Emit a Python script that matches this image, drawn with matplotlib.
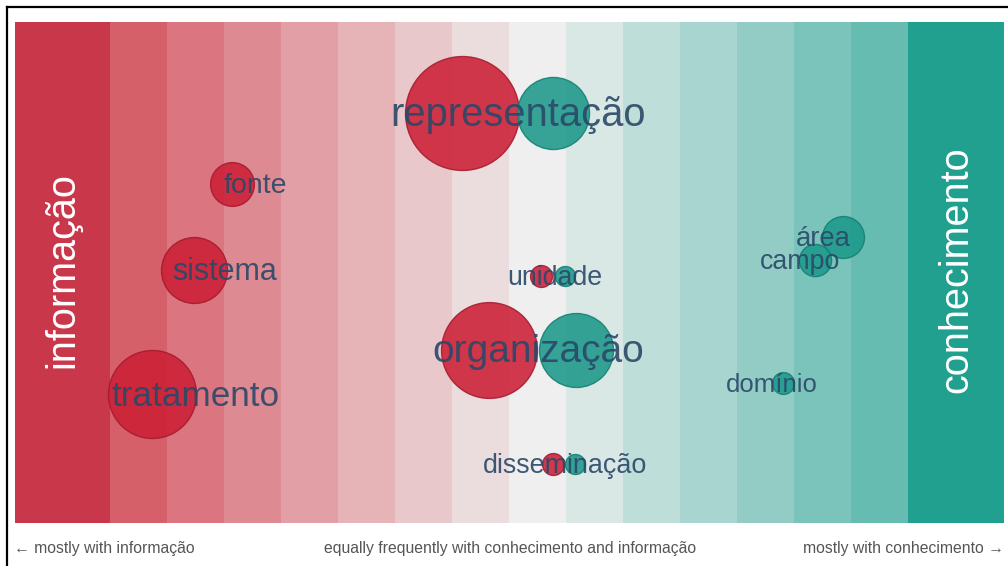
import matplotlib
matplotlib.use("Agg")
import matplotlib.pyplot as plt
from matplotlib.lines import Line2D
from matplotlib.transforms import offset_copy

plt.rcParams['font.family'] = ['Liberation Sans', 'DejaVu Sans']

# ---- data ----
band_edges = [0, 9.6, 15.37, 21.13, 26.9, 32.66, 38.42, 44.19, 49.95,
              55.71, 61.48, 67.24, 73.0, 78.77, 84.53, 90.29, 100]
band_colors = ['#C8374A', '#D6606A', '#DB7580', '#DE8A92', '#E2A0A6',
               '#E6B3B7', '#E8C8CB', '#EBDCDE', '#EFEFEF', '#D9E7E5',
               '#BEDEDA', '#A8D5D0', '#92CCC5', '#7BC4BB', '#66BCB1', '#22A08F']

terms = ['representação', 'fonte', 'sistema', 'tratamento', 'unidade',
         'organização', 'disseminação', 'área', 'campo', 'domínio']
term_x = [50.9, 24.3, 21.2, 18.3, 54.6, 52.9, 55.6, 81.7, 79.4, 76.5]
term_y = [81.9, 67.7, 50.5, 25.7, 49.3, 34.5, 11.8, 57.1, 52.5, 27.9]

info_x = [45.2, 21.9, 18.1, 13.85, 53.2, 47.9, 54.4, None, None, None]
info_freq = [325, 48, 109, 194, 12, 230, 12, 0, 0, 0]
conh_x = [54.4, None, None, None, 55.6, 56.7, 56.6, 83.7, 80.9, 77.7]
conh_freq = [130, 0, 0, 0, 10, 137, 10, 44, 26, 12]

left_label = 'informação'
right_label = 'conhecimento'
bottom_labels = ['← mostly with informação',
                 'equally frequently with conhecimento and informação',
                 'mostly with conhecimento →']

# ---- style ----
term_fontsize = [28.7, 20.5, 22, 25.3, 19.3, 28, 19.4, 19.8, 19.3, 18.5]
size_scale = 20.7
red = (0.80, 0.12, 0.21)
teal = (0.11, 0.60, 0.54)
text_color = '#2A4868'

W, H = 1008, 566
fig = plt.figure(figsize=(W / 100, H / 100), dpi=100)
fig.patch.set_facecolor('white')
ax = fig.add_axes([15 / W, (H - 523) / H, 989 / W, 501 / H])
ax.set_xlim(0, 100)
ax.set_ylim(0, 100)
ax.axis('off')

for i, c in enumerate(band_colors):
    ax.axvspan(band_edges[i], band_edges[i + 1], color=c, lw=0, zorder=0)

for x, y, f in zip(info_x, term_y, info_freq):
    if x is not None and f > 0:
        ax.scatter([x], [y], s=f * size_scale, color=red, alpha=0.88,
                   edgecolors=(0.65, 0.1, 0.18), linewidths=1.0, zorder=2)
for x, y, f in zip(conh_x, term_y, conh_freq):
    if x is not None and f > 0:
        ax.scatter([x], [y], s=f * size_scale, color=teal, alpha=0.88,
                   edgecolors=(0.08, 0.5, 0.45), linewidths=1.0, zorder=3)

text_tr = offset_copy(ax.transData, fig=fig, x=0, y=-1.5, units='points')
for t, x, y, fs in zip(terms, term_x, term_y, term_fontsize):
    ax.text(x, y, t, ha='center', va='center', fontsize=fs,
            color=text_color, alpha=0.9, zorder=4, transform=text_tr)

ax.text((band_edges[0] + band_edges[1]) / 2, 50.5, left_label, rotation=90,
        ha='center', va='center', fontsize=28.5, color='white', zorder=5)
ax.text((band_edges[-2] + band_edges[-1]) / 2, 50.5, right_label, rotation=90,
        ha='center', va='center', fontsize=28.5, color='white', zorder=5)

fig.text(14 / W, 1 - 548 / H, bottom_labels[0], ha='left', va='center',
         fontsize=11.3, color='#555555')
fig.text(510 / W, 1 - 548 / H, bottom_labels[1], ha='center', va='center',
         fontsize=11.3, color='#555555')
fig.text(1004 / W, 1 - 548 / H, bottom_labels[2], ha='right', va='center',
         fontsize=11.3, color='#555555')

# outer frame (top and left edges visible)
fig.add_artist(Line2D([7 / W, 7 / W], [1 - 7 / H, 0], color='black', lw=1.6,
                      transform=fig.transFigure))
fig.add_artist(Line2D([7 / W, 1], [1 - 7 / H, 1 - 7 / H], color='black', lw=1.6,
                      transform=fig.transFigure))

fig.savefig('out.png', dpi=100)
